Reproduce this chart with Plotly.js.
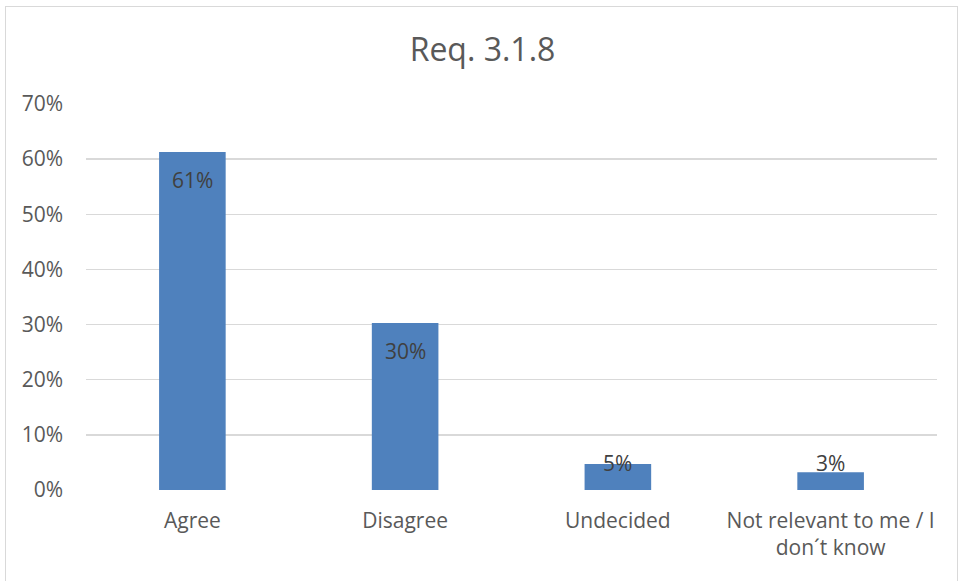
<!DOCTYPE html>
<html>
<head>
<meta charset="utf-8">
<script src="https://cdn.plot.ly/plotly-3.0.1.min.js"></script>
<style>
  html, body { margin: 0; padding: 0; background: #ffffff; }
  #wrap { position: relative; width: 965px; height: 581px; overflow: hidden; }
  #chart { position: absolute; left: 0; top: 0; width: 965px; height: 581px; }
  #frame { position: absolute; left: 5px; top: 6px; width: 951px; height: 620px;
           border: 1.5px solid #d9d9d9; pointer-events: none; }
</style>
</head>
<body>
<div id="wrap">
  <div id="chart"></div>
  <div id="frame"></div>
</div>
<script>
// Survey answers for requirement 3.1.8 (share of respondents)
const categories = ['Agree', 'Disagree', 'Undecided', 'Not relevant to me / I<br>don´t know'];
const shares = [0.613, 0.303, 0.047, 0.032];
const yTickValues = [0, 0.1, 0.2, 0.3, 0.4, 0.5, 0.6, 0.7];

const textColor = '#595959';
const labelColor = '#404040';
const fontFamily = '"Open Sans", "Liberation Sans", Arial, sans-serif';

const barTrace = {
  type: 'bar',
  x: categories,
  y: shares,
  marker: { color: '#4f81bd' },
  hoverinfo: 'skip'
};

// Value labels: inside the top of tall bars; short bars get the label resting above the axis
const valueLabels = categories.map((c, i) => {
  const tall = shares[i] >= 0.08;
  return {
    x: c,
    y: tall ? shares[i] : 0,
    xref: 'x', yref: 'y',
    text: Math.round(shares[i] * 100) + '%',
    showarrow: false,
    yanchor: tall ? 'top' : 'bottom',
    yshift: tall ? -12 : 11,
    font: { family: fontFamily, size: 21, color: labelColor }
  };
});

const layout = {
  width: 965,
  height: 581,
  margin: { l: 86, r: 28, t: 104, b: 91 },
  paper_bgcolor: '#ffffff',
  plot_bgcolor: '#ffffff',
  showlegend: false,
  bargap: 0.687,
  title: {
    text: 'Req. 3.1.8',
    x: 0.5, xanchor: 'center',
    y: 0.915, yanchor: 'middle',
    font: { family: fontFamily, size: 32, color: textColor }
  },
  xaxis: {
    type: 'category',
    showgrid: false,
    zeroline: false,
    showline: false,
    ticks: '',
    ticklabelstandoff: 16,
    tickfont: { family: fontFamily, size: 21, color: textColor },
    fixedrange: true
  },
  yaxis: {
    range: [0, 0.7],
    tickvals: yTickValues,
    tickformat: '.0%',
    showgrid: true,
    gridcolor: '#d9d9d9',
    gridwidth: 1.5,
    zeroline: false,
    showline: false,
    ticks: '',
    ticklabelstandoff: 22,
    tickfont: { family: fontFamily, size: 21, color: textColor },
    fixedrange: true
  },
  annotations: valueLabels
};

Plotly.newPlot('chart', [barTrace], layout, { displayModeBar: false, staticPlot: true });
</script>
</body>
</html>
